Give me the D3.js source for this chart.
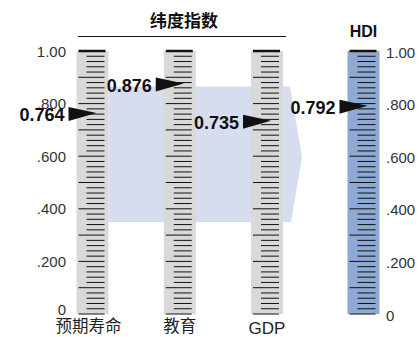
<!DOCTYPE html>
<html><head><meta charset="utf-8">
<script src="https://cdn.jsdelivr.net/npm/d3@7"></script>
<style>body{margin:0;background:#fff}svg{display:block}</style>
</head><body>
<script>
const categories = ["预期寿命", "教育", "GDP"];
const values = [0.764, 0.876, 0.735];
const hdiLabel = "HDI";
const hdiValue = 0.792;
const title = "纬度指数";
const tickValues = [0, 0.2, 0.4, 0.6, 0.8, 1.0];
const tickLabels = ["0", ".200", ".400", ".600", ".800", "1.00"];

const W = 419, H = 337;
const svg = d3.select("body").append("svg").attr("width", W).attr("height", H);
const y = d3.scaleLinear().domain([0, 1]).range([314, 51]);
const x = d3.scalePoint().domain(categories).range([92.5, 267]);
const hdiX = 363.5;
const colW = 32;

// light arrow band
const bandTop = y(0.865), bandBot = y(0.35);
const bx0 = x(categories[0]) + colW / 2, bx1 = 290;
svg.append("path")
  .attr("d", `M${bx0},${bandTop}L${bx1},${bandTop}L${bx1 + 12},${(bandTop + bandBot) / 2 + 3}L${bx1 + 1},${bandBot}L${bx0},${bandBot}Z`)
  .attr("fill", "#d6ddee");

function column(cx, fill) {
  const left = cx - colW / 2;
  const g = svg.append("g");
  g.append("rect").attr("x", left).attr("y", y(1)).attr("width", colW).attr("height", y(0) - y(1)).attr("fill", fill);
  const minors = d3.range(0, 51).map(i => i / 50);
  minors.forEach((v, i) => {
    const isTop = i === 50;
    const major = i % 5 === 0;
    g.append("line")
      .attr("x1", left + (isTop ? 2 : major ? 2 : 10))
      .attr("x2", left + (isTop ? 29 : 28))
      .attr("y1", y(v)).attr("y2", y(v))
      .attr("stroke", "#111")
      .attr("stroke-width", isTop ? 2.5 : 1);
  });
  return left;
}

function pointer(left, v) {
  const yy = y(v);
  svg.append("path")
    .attr("d", `M${left - 8},${yy - 6}L${left + 20},${yy}L${left - 8},${yy + 8}Z`)
    .attr("fill", "#111");
  svg.append("text")
    .attr("x", left - 12).attr("y", yy + 2)
    .attr("text-anchor", "end").attr("dominant-baseline", "central")
    .attr("font-family", "Liberation Sans, Arial, sans-serif")
    .attr("font-weight", "bold").attr("font-size", 18).attr("fill", "#111")
    .text(v.toFixed(3));
}

const lefts = categories.map(c => column(x(c), "#d9d9d9"));
const hdiLeft = column(hdiX, "#8eaad4");

// left / right axis labels
tickValues.forEach((v, i) => {
  svg.append("text")
    .attr("x", 66).attr("y", y(v) + (v === 0 ? -5 : 0))
    .attr("text-anchor", "end").attr("dominant-baseline", "central")
    .attr("font-family", "Liberation Sans, Arial, sans-serif")
    .attr("font-size", 15).attr("fill", "#333")
    .text(tickLabels[i]);
  svg.append("text")
    .attr("x", 386).attr("y", y(v) + 1)
    .attr("text-anchor", "start").attr("dominant-baseline", "central")
    .attr("font-family", "Liberation Sans, Arial, sans-serif")
    .attr("font-size", 15).attr("fill", "#333")
    .text(tickLabels[i]);
});

categories.forEach((c, i) => pointer(lefts[i], values[i]));
pointer(hdiLeft, hdiValue);

// category labels
categories.forEach((c, i) => {
  const isLatin = /^[A-Za-z]+$/.test(c);
  svg.append("text")
    .attr("x", x(c) + (i === 0 ? -4 : 0)).attr("y", isLatin ? 334 : 332)
    .attr("text-anchor", "middle")
    .attr("font-family", isLatin ? "Liberation Sans Narrow, Arial Narrow, sans-serif" : "Noto Sans CJK SC, sans-serif")
    .attr("font-size", isLatin ? 17 : 16.5).attr("fill", "#222")
    .text(c);
});

// title and line
svg.append("text").attr("x", 184).attr("y", 27).attr("text-anchor", "middle")
  .attr("font-family", "Noto Sans CJK SC, sans-serif").attr("font-weight", "bold")
  .attr("font-size", 17).attr("fill", "#111").text(title);
svg.append("line").attr("x1", 78).attr("x2", 286).attr("y1", 36.5).attr("y2", 36.5)
  .attr("stroke", "#111").attr("stroke-width", 1);

svg.append("text").attr("x", hdiX).attr("y", 37).attr("text-anchor", "middle")
  .attr("font-family", "Liberation Sans Narrow, Arial Narrow, sans-serif").attr("font-weight", "bold")
  .attr("font-size", 16).attr("fill", "#111").text(hdiLabel);
</script>
</body></html>
